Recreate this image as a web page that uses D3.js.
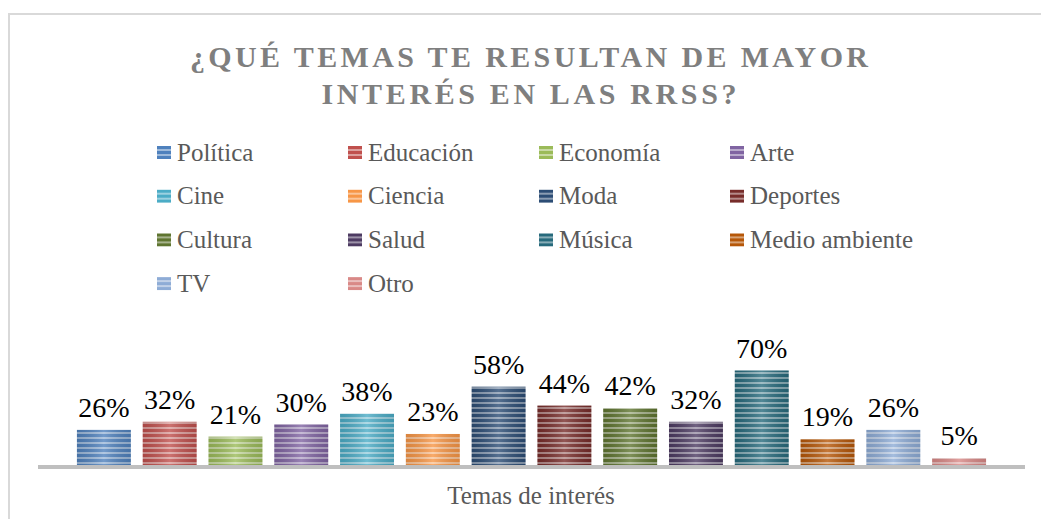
<!DOCTYPE html>
<html>
<head>
<meta charset="utf-8">
<script src="https://cdn.jsdelivr.net/npm/d3@7"></script>
<style>
body { margin: 0; background: #fff; }
text { font-family: "Liberation Serif", "DejaVu Serif", serif; }
</style>
</head>
<body>
<div class="container"></div>
<script>
var categories = ["Política", "Educación", "Economía", "Arte", "Cine", "Ciencia", "Moda", "Deportes", "Cultura", "Salud", "Música", "Medio ambiente", "TV", "Otro"];
var values = [26, 32, 21, 30, 38, 23, 58, 44, 42, 32, 70, 19, 26, 5];
var colors = ["#4f81bd", "#c0504d", "#9bbb59", "#8064a2", "#4bacc6", "#f79646", "#2c4d75", "#772c2a", "#5f7530", "#4d3b62", "#276a7c", "#b65708", "#8eacd6", "#d98987"];

const W = 1041, H = 519;
const BASE = 465;

var svg = d3.select('.container').append('svg').attr("width", W).attr("height", H);

// frame
svg.append("path")
  .attr("d", "M9," + H + "V14H" + W)
  .attr("fill", "none")
  .attr("stroke", "#d9d9d9")
  .attr("stroke-width", 2);

// stripe patterns
var defs = svg.append("defs");
colors.forEach(function(c, i) {
  var p = defs.append("pattern")
    .attr("id", "stripe" + i)
    .attr("patternUnits", "userSpaceOnUse")
    .attr("width", 4).attr("height", 5);
  p.append("rect").attr("width", 4).attr("height", 5).attr("fill", c);
  p.append("rect").attr("y", 2).attr("width", 4).attr("height", 2).attr("fill", "#fff").attr("opacity", 0.45);
});
var grad = defs.append("linearGradient").attr("id", "shine");
grad.append("stop").attr("offset", "0%").attr("stop-color", "#000").attr("stop-opacity", 0.12);
grad.append("stop").attr("offset", "50%").attr("stop-color", "#fff").attr("stop-opacity", 0.2);
grad.append("stop").attr("offset", "100%").attr("stop-color", "#000").attr("stop-opacity", 0.12);

// title
var titleLines = ["¿QUÉ TEMAS TE RESULTAN DE MAYOR", "INTERÉS EN LAS RRSS?"];
var titleWidths = [678, 415];
svg.selectAll(".title").data(titleLines).enter().append("text")
  .attr("class", "title")
  .attr("x", 529).attr("y", function(d, i) { return 67 + i * 37; })
  .attr("text-anchor", "middle")
  .attr("textLength", function(d, i) { return titleWidths[i]; })
  .attr("lengthAdjust", "spacing")
  .attr("font-size", 30).attr("font-weight", "bold")
  .attr("fill", "#7f7f7f")
  .text(function(d) { return d; });

// legend
var legend = svg.selectAll(".leg").data(categories).enter().append("g")
  .attr("class", "leg")
  .attr("transform", function(d, i) { return "translate(" + (157 + (i % 4) * 191) + "," + (152 + Math.floor(i / 4) * 43.7) + ")"; });
legend.append("rect").attr("x", 0).attr("y", -6).attr("width", 14).attr("height", 13)
  .attr("fill", function(d, i) { return "url(#stripe" + i + ")"; });
legend.append("text").attr("x", 20).attr("y", 8.5)
  .attr("font-size", 25).attr("fill", "#595959")
  .text(function(d) { return d; });

// scales
var x = d3.scaleBand().domain(categories).range([71, 992]).paddingInner(0.18).paddingOuter(0.09);
var y = d3.scaleLinear().domain([0, 70]).range([BASE, 370.5]);

var bars = svg.selectAll(".bar").data(values).enter().append("g").attr("class", "bar");
bars.append("rect")
  .attr("x", function(d, i) { return x(categories[i]); })
  .attr("y", function(d) { return y(d); })
  .attr("width", x.bandwidth())
  .attr("height", function(d) { return BASE - y(d); })
  .attr("fill", function(d, i) { return "url(#stripe" + i + ")"; });
bars.append("rect")
  .attr("x", function(d, i) { return x(categories[i]); })
  .attr("y", function(d) { return y(d); })
  .attr("width", x.bandwidth())
  .attr("height", function(d) { return BASE - y(d); })
  .attr("fill", "url(#shine)");
bars.append("text")
  .attr("x", function(d, i) { return x(categories[i]) + x.bandwidth() / 2; })
  .attr("y", function(d) { return y(d) - 13; })
  .attr("text-anchor", "middle")
  .attr("font-size", 28).attr("fill", "#000")
  .text(function(d) { return d + "%"; });

// axis line
svg.append("line").attr("x1", 38).attr("x2", 1025).attr("y1", BASE + 2).attr("y2", BASE + 2)
  .attr("stroke", "#bfbfbf").attr("stroke-width", 4);

// axis title
svg.append("text").attr("x", 531).attr("y", 504).attr("text-anchor", "middle")
  .attr("font-size", 25).attr("fill", "#595959").text("Temas de interés");
</script>
</body>
</html>
